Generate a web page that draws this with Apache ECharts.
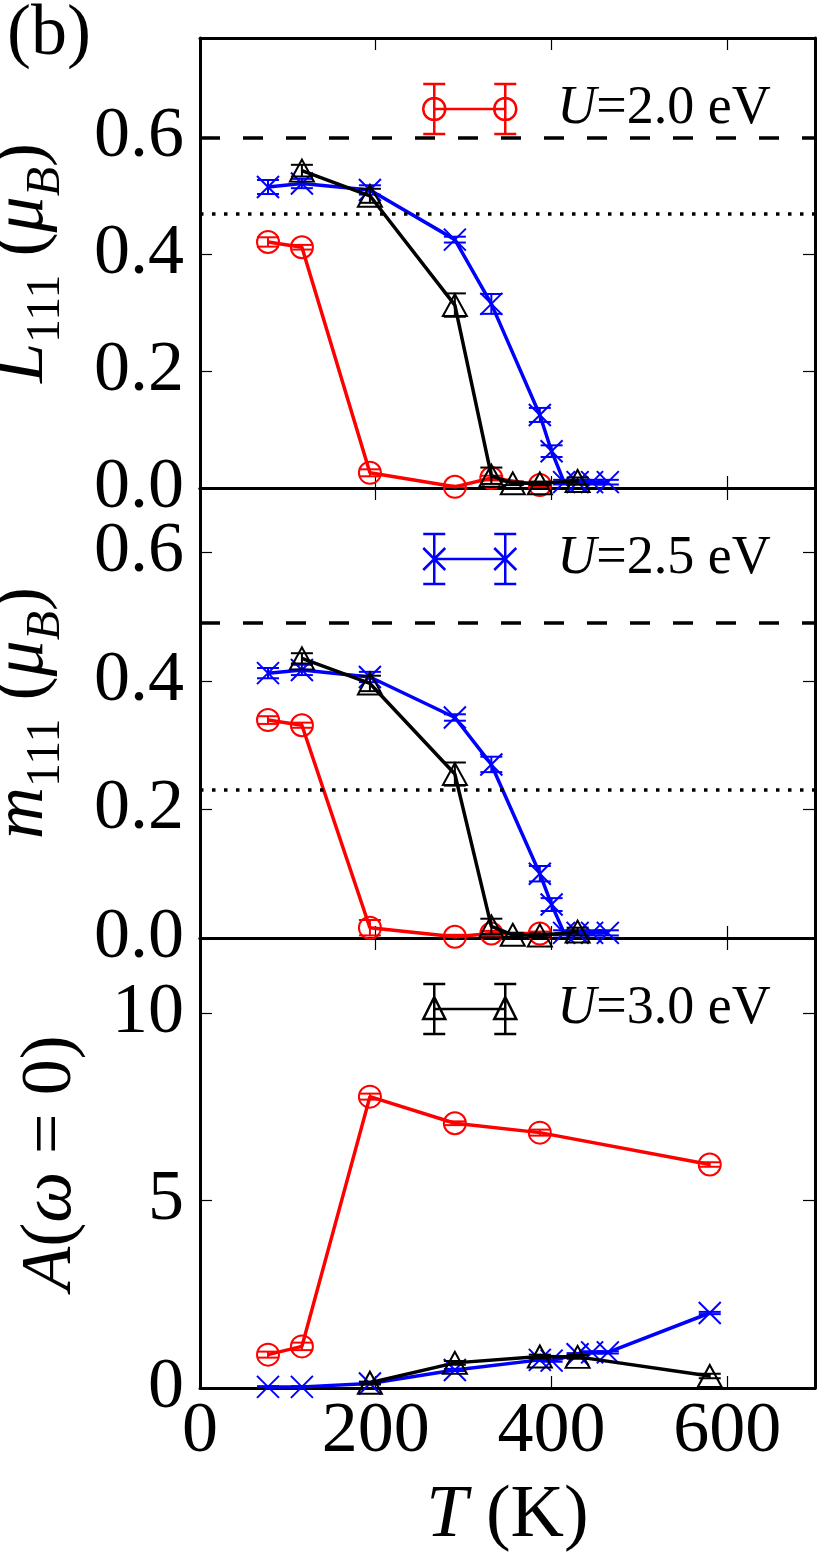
<!DOCTYPE html>
<html>
<head>
<meta charset="utf-8">
<script src="https://cdn.jsdelivr.net/npm/echarts@6/dist/echarts.min.js"></script>
<style>
html, body { margin: 0; padding: 0; background: #fff; }
#main { width: 832px; height: 1560px; }
</style>
</head>
<body>
<div id="main"></div>
<script>
// temperatures (K) of each run
var tRed = [77.4, 116.0, 193.4, 290.1, 331.6, 386.8];
var tBlue = [77.4, 116.0, 193.4, 290.1, 331.6, 386.8, 400.2, 414.4, 429.8, 446.3, 464.2];
var tBlack = [116.0, 193.4, 290.1, 331.6, 356.0, 386.8, 429.8];
var tRedA = [77.4, 116.0, 193.4, 290.1, 386.8, 580.2];
var tBlueA = [77.4, 116.0, 193.4, 290.1, 386.8, 400.2, 429.8, 446.3, 464.2, 580.2];
var tBlackA = [193.4, 290.1, 386.8, 429.8, 580.2];

// L111 (muB)
var lRed = [0.421, 0.412, 0.026, 0.002, 0.017, 0.005];
var lRedErr = [0.008, 0.004, 0.006, 0.002, 0.004, 0.003];
var lBlue = [0.515, 0.521, 0.510, 0.425, 0.315, 0.125, 0.063, 0.010, 0.010, 0.010, 0.010];
var lBlueErr = [0.012, 0.008, 0.008, 0.005, 0.017, 0.012, 0.010, 0.004, 0.004, 0.004, 0.004];
var lBlack = [0.543, 0.500, 0.313, 0.021, 0.008, 0.008, 0.012];
var lBlackErr = [0.010, 0.012, 0.020, 0.014, 0.003, 0.003, 0.006];

// m111 (muB)
var mRed = [0.339, 0.331, 0.016, 0.002, 0.007, 0.007];
var mRedErr = [0.006, 0.004, 0.012, 0.003, 0.004, 0.003];
var mBlue = [0.412, 0.417, 0.406, 0.343, 0.270, 0.100, 0.052, 0.008, 0.008, 0.008, 0.008];
var mBlueErr = [0.008, 0.008, 0.008, 0.005, 0.012, 0.012, 0.010, 0.004, 0.004, 0.004, 0.004];
var mBlack = [0.435, 0.396, 0.255, 0.018, 0.005, 0.004, 0.010];
var mBlackErr = [0.008, 0.012, 0.018, 0.012, 0.003, 0.003, 0.006];

// A(omega = 0)
var aRed = [0.89, 1.11, 7.77, 7.06, 6.81, 5.96];
var aRedErr = [0.08, 0.10, 0.08, 0.05, 0.08, 0.06];
var aBlue = [0.03, 0.03, 0.12, 0.48, 0.75, 0.73, 0.90, 0.95, 0.95, 2.00];
var aBlueErr = [0.02, 0.02, 0.03, 0.03, 0.03, 0.03, 0.03, 0.03, 0.03, 0.03];
var aBlack = [0.14, 0.67, 0.84, 0.83, 0.32];
var aBlackErr = [0.03, 0.05, 0.05, 0.05, 0.06];

// reference levels
var lDashed = 0.6, lDotted = 0.471;
var mDashed = 0.489, mDotted = 0.235;

var names = ["U=2.0 eV", "U=2.5 eV", "U=3.0 eV"];
var yMax = [0.77, 0.70, 12];
var yStep = [0.2, 0.2, 5];

var RED = "#ff0000", BLUE = "#0000ff", BLACK = "#000000";
var FONT = "Liberation Serif";
var XSYM = "path://M0,0L10,10M10,0L0,10";

// legend icons: two markers joined by a line, each with an error bar
var circ = function (cx) {
    return "M" + (cx - 11) + ",25A11,11 0 1,0 " + (cx + 11) + ",25A11,11 0 1,0 " + (cx - 11) + ",25Z";
};
var bars = "M11,25L82,25M11,0L11,50M82,0L82,50M0,0L22,0M0,50L22,50M71,0L93,0M71,50L93,50";
var icons = [
    "path://" + bars + circ(11) + circ(82),
    "path://" + bars + "M0,14L22,36M22,14L0,36M71,14L93,36M93,14L71,36",
    "path://" + bars + "M11,13L0,35L22,35ZM82,13L71,35L93,35Z"
];
var iconColors = [RED, BLUE, BLACK];

function lineSeries(name, color, sym, size, xs, ys, gi, z) {
    return {
        name: name,
        type: "line",
        xAxisIndex: gi * 2,
        yAxisIndex: gi * 2,
        data: xs.map(function (t, i) { return [t, ys[i]]; }),
        symbol: sym,
        symbolSize: size,
        lineStyle: { color: color, width: 3.5 },
        itemStyle: { color: "rgba(0,0,0,0)", borderColor: color, borderWidth: 2 },
        emphasis: { disabled: true },
        z: z
    };
}

function errSeries(color, xs, ys, es, gi, z) {
    return {
        type: "custom",
        xAxisIndex: gi * 2,
        yAxisIndex: gi * 2,
        silent: true,
        clip: true,
        z: z,
        encode: { x: 0, y: 1 },
        data: xs.map(function (t, i) { return [t, ys[i], es[i]]; }),
        renderItem: function (params, api) {
            var t = api.value(0), v = api.value(1), e = api.value(2);
            var hi = api.coord([t, v + e]), lo = api.coord([t, v - e]);
            var st = { stroke: color, lineWidth: 2 };
            return {
                type: "group",
                children: [
                    { type: "line", shape: { x1: hi[0], y1: hi[1], x2: lo[0], y2: lo[1] }, style: st },
                    { type: "line", shape: { x1: hi[0] - 11, y1: hi[1], x2: hi[0] + 11, y2: hi[1] }, style: st },
                    { type: "line", shape: { x1: lo[0] - 11, y1: lo[1], x2: lo[0] + 11, y2: lo[1] }, style: st }
                ]
            };
        }
    };
}

function refLine(gi, dashed, dotted) {
    return {
        type: "line",
        xAxisIndex: gi * 2,
        yAxisIndex: gi * 2,
        data: [],
        silent: true,
        z: 1,
        markLine: {
            silent: true,
            symbol: "none",
            label: { show: false },
            animation: false,
            data: [
                { yAxis: dashed, lineStyle: { color: BLACK, width: 3.5, type: [20, 23] } },
                { yAxis: dotted, lineStyle: { color: BLACK, width: 3.5, type: [3.5, 8.5] } }
            ]
        }
    };
}

var panels = [
    { r: [tRed, lRed, lRedErr], b: [tBlue, lBlue, lBlueErr], k: [tBlack, lBlack, lBlackErr] },
    { r: [tRed, mRed, mRedErr], b: [tBlue, mBlue, mBlueErr], k: [tBlack, mBlack, mBlackErr] },
    { r: [tRedA, aRed, aRedErr], b: [tBlueA, aBlue, aBlueErr], k: [tBlackA, aBlack, aBlackErr] }
];

var yNames = [
    "{i|L}{s|111}{n| (}{i|\u03bc}{si|B}{n|)}",
    "{i|m}{s|111}{n| (}{i|\u03bc}{si|B}{n|)}",
    "{i|A}{n|(}{i|\u03c9}{n| = 0)}"
];
var yGaps = [130, 130, 102];
var nameRich = {
    i: { fontFamily: FONT, fontStyle: "italic", fontSize: 72, lineHeight: 94, color: BLACK },
    n: { fontFamily: FONT, fontSize: 72, lineHeight: 94, color: BLACK },
    s: { fontFamily: FONT, fontSize: 48, lineHeight: 48, verticalAlign: "bottom", color: BLACK },
    si: { fontFamily: FONT, fontStyle: "italic", fontSize: 48, lineHeight: 48, verticalAlign: "bottom", color: BLACK }
};

var grids = [], xAxes = [], yAxes = [], series = [], legends = [];
var tops = [38, 488, 938];
var axLine = { onZero: false, lineStyle: { color: BLACK, width: 3 } };
var axTick = { inside: true, length: 12, lineStyle: { color: BLACK, width: 1.2 } };

tops.forEach(function (top, gi) {
    grids.push({ left: 200, right: 17, top: top, height: 450, outerBoundsMode: "none" });
    ["bottom", "top"].forEach(function (pos) {
        var main = pos === "bottom" && gi === 2;
        xAxes.push({
            gridIndex: gi, type: "value", position: pos,
            min: 0, max: 700, interval: 200,
            axisLine: axLine, axisTick: axTick, splitLine: { show: false },
            axisLabel: {
                show: main, showMaxLabel: false, margin: 8,
                fontFamily: FONT, fontSize: 72, color: BLACK
            },
            name: main ? "{i|T}{n| (K)}" : "",
            nameLocation: "middle", nameGap: 92,
            nameTextStyle: {
                rich: {
                    i: { fontFamily: FONT, fontStyle: "italic", fontSize: 74, color: BLACK },
                    n: { fontFamily: FONT, fontSize: 74, color: BLACK }
                }
            }
        });
    });
    ["left", "right"].forEach(function (pos) {
        var main = pos === "left";
        yAxes.push({
            gridIndex: gi, type: "value", position: pos,
            min: 0, max: yMax[gi], interval: yStep[gi],
            axisLine: axLine, axisTick: axTick, splitLine: { show: false },
            axisLabel: {
                show: main, showMaxLabel: false, margin: 16,
                fontFamily: FONT, fontSize: 72, color: BLACK,
                formatter: function (v) { return gi < 2 ? v.toFixed(1) : String(v); }
            },
            name: main ? yNames[gi] : "",
            nameLocation: "middle", nameRotate: 90, nameGap: yGaps[gi],
            nameMoveOverlap: false,
            nameTextStyle: { rich: nameRich }
        });
    });

    if (gi === 0) series.push(refLine(0, lDashed, lDotted));
    if (gi === 1) series.push(refLine(1, mDashed, mDotted));

    var p = panels[gi];
    series.push(lineSeries(names[0], RED, "circle", 22, p.r[0], p.r[1], gi, 3));
    series.push(errSeries(RED, p.r[0], p.r[1], p.r[2], gi, 3));
    series.push(lineSeries(names[1], BLUE, XSYM, 22, p.b[0], p.b[1], gi, 4));
    series.push(errSeries(BLUE, p.b[0], p.b[1], p.b[2], gi, 4));
    series.push(lineSeries(names[2], BLACK, "triangle", [24, 22], p.k[0], p.k[1], gi, 5));
    series.push(errSeries(BLACK, p.k[0], p.k[1], p.k[2], gi, 5));

    legends.push({
        left: 417, top: top + 39,
        orient: "horizontal",
        selectedMode: false,
        itemWidth: 93, itemHeight: 50,
        data: [{ name: names[gi], icon: icons[gi] }],
        itemStyle: { color: "rgba(0,0,0,0)", borderColor: iconColors[gi], borderWidth: 2.5 },
        formatter: function (n) {
            return "{i|U}{n|" + n.slice(1) + "}";
        },
        textStyle: {
            padding: [0, 0, 0, 36],
            rich: {
                i: { fontFamily: FONT, fontStyle: "italic", fontSize: 54, color: BLACK },
                n: { fontFamily: FONT, fontSize: 54, color: BLACK }
            }
        }
    });
});

var chart = echarts.init(document.getElementById("main"), null, { renderer: "canvas" });
chart.setOption({
    animation: false,
    backgroundColor: "#ffffff",
    title: {
        text: "(b)", left: 2, top: -6,
        textStyle: { fontFamily: FONT, fontSize: 72, fontWeight: "normal", color: BLACK }
    },
    grid: grids,
    xAxis: xAxes,
    yAxis: yAxes,
    legend: legends,
    series: series
});
</script>
</body>
</html>
